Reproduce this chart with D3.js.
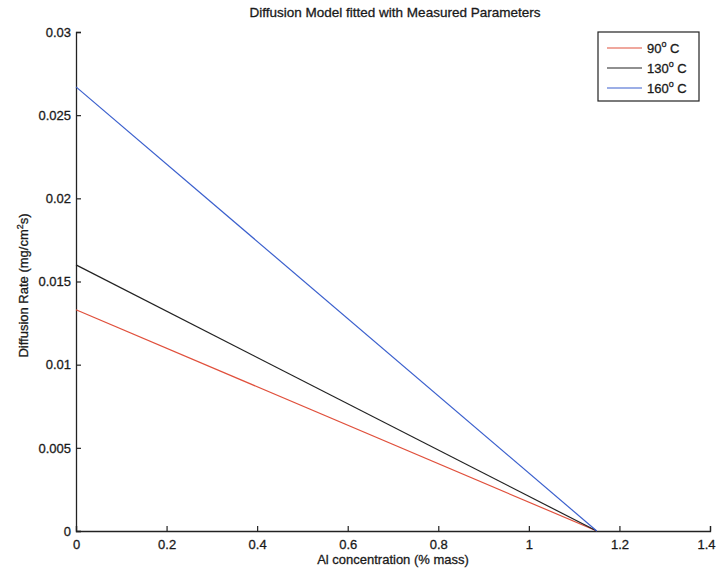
<!DOCTYPE html>
<html><head><meta charset="utf-8">
<script src="https://cdn.jsdelivr.net/npm/d3@7"></script>
<style>body{margin:0;background:#fff;} svg{display:block;} text{font-family:"Liberation Sans",Arial,sans-serif;fill:#1a1a1a;stroke:#1a1a1a;stroke-width:0.3px;}</style>
</head><body><svg id="c" width="717" height="571"></svg>
<script>
const seriesNames = ["90", "130", "160"];
const seriesColors = ["#e0503c", "#222222", "#3a5fcd"];
const xValues = [0, 1.15];
const rate90 = [0.0133, 0];
const rate130 = [0.0160, 0];
const rate160 = [0.0267, 0];
const xTicks = [0, 0.2, 0.4, 0.6, 0.8, 1, 1.2, 1.4];
const yTicks = [0, 0.005, 0.01, 0.015, 0.02, 0.025, 0.03];

const svg = d3.select("#c");
const L = 76, R = 710, T = 32, B = 531;
const x = d3.scaleLinear().domain([0, 1.4]).range([L, R]);
const y = d3.scaleLinear().domain([0, 0.03]).range([B, T]);

const xAxis = d3.axisBottom(x).tickValues(xTicks).tickSize(-5).tickPadding(9).tickFormat(d3.format("~g"));
const yAxis = d3.axisLeft(y).tickValues(yTicks).tickSize(-5).tickPadding(5).tickFormat(d3.format("~g"));

const gx = svg.append("g").attr("transform", `translate(0,${B})`).call(xAxis);
const gy = svg.append("g").attr("transform", `translate(${L},0)`).call(yAxis);
[gx, gy].forEach(g => {
  g.select(".domain").attr("stroke", "#222").attr("stroke-width", 1.3);
  g.selectAll(".tick line").attr("stroke", "#222").attr("stroke-width", 1.2);
  g.selectAll(".tick text").attr("font-size", 13).attr("font-family", "Liberation Sans, Arial, sans-serif").attr("fill", "#1a1a1a");
});
// keep the last x tick label inside the page
gx.selectAll(".tick text").filter(d => d === 1.4).attr("text-anchor", "end").attr("dx", 5);

const series = [rate90, rate130, rate160];
const line = d3.line().x((d, i) => x(xValues[i])).y(d => y(d));
series.forEach((s, i) => {
  svg.append("path").datum(s).attr("d", line).attr("fill", "none")
    .attr("stroke", seriesColors[i]).attr("stroke-width", 1.2);
});

svg.append("text").attr("x", 395).attr("y", 17).attr("text-anchor", "middle")
  .attr("font-size", 13.5).text("Diffusion Model fitted with Measured Parameters");
svg.append("text").attr("x", 393).attr("y", 564).attr("text-anchor", "middle")
  .attr("font-size", 13).text("Al concentration (% mass)");
const yl = svg.append("text").attr("transform", `translate(28,${(T + B) / 2 + 4}) rotate(-90)`)
  .attr("text-anchor", "middle").attr("font-size", 13);
yl.append("tspan").text("Diffusion Rate (mg/cm");
yl.append("tspan").attr("font-size", 9).attr("dy", -5).text("2");
yl.append("tspan").attr("dy", 5).text("s)");

// legend
const lg = svg.append("g");
lg.append("rect").attr("x", 598).attr("y", 32).attr("width", 101).attr("height", 69)
  .attr("fill", "#fff").attr("stroke", "#222").attr("stroke-width", 1.2);
seriesNames.forEach((nm, i) => {
  const yy = 48 + i * 20;
  lg.append("line").attr("x1", 607).attr("x2", 642).attr("y1", yy).attr("y2", yy)
    .attr("stroke", seriesColors[i]).attr("stroke-width", 1.2);
  const t = lg.append("text").attr("x", 647).attr("y", yy + 5).attr("font-size", 13);
  t.append("tspan").text(nm);
  t.append("tspan").attr("font-size", 9).attr("dy", -6).text("o");
  t.append("tspan").attr("dy", 6).text(" C");
});
</script></body></html>
